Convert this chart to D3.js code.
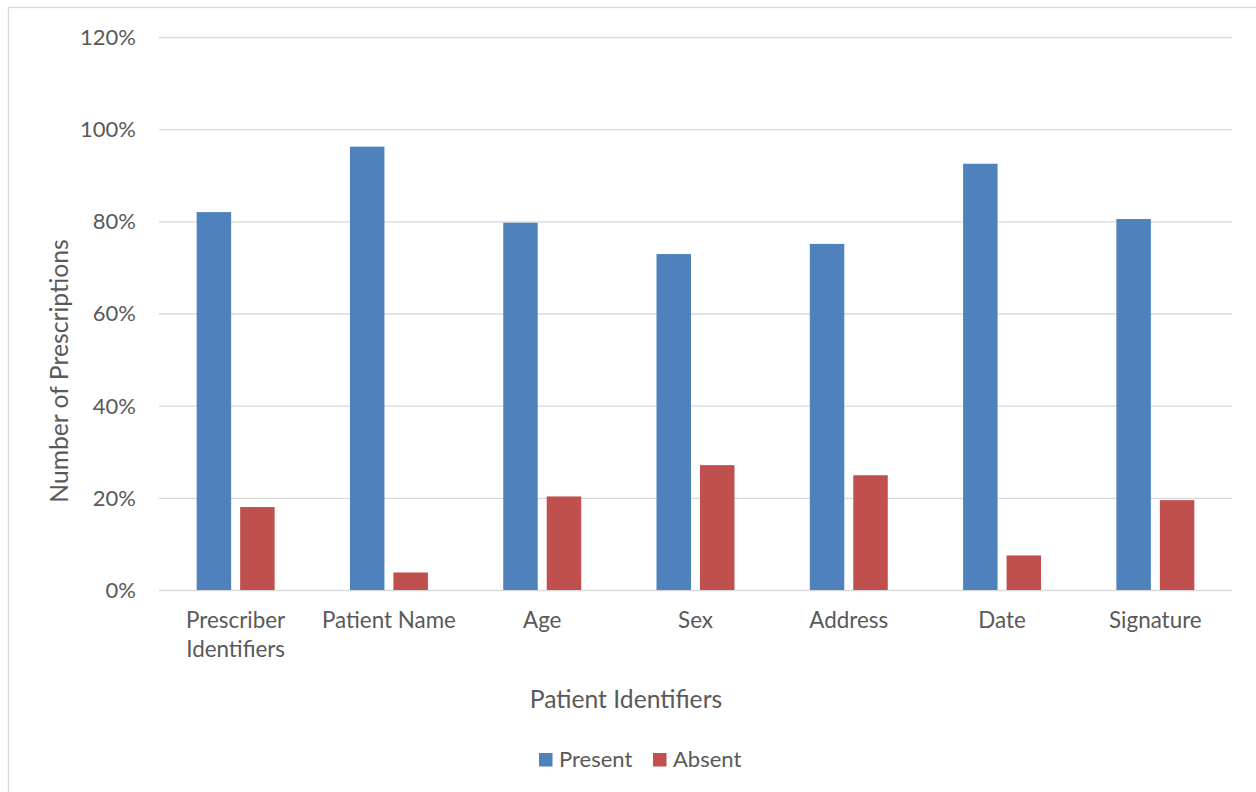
<!DOCTYPE html>
<html>
<head>
<meta charset="utf-8">
<script src="https://cdn.jsdelivr.net/npm/d3@7"></script>
<style>
  html, body { margin: 0; padding: 0; background: #fff; }
  svg { display: block; }
  text { font-family: Lato, "Open Sans", sans-serif; fill: #595959; }
</style>
</head>
<body>
<svg id="chart" width="1256" height="792"></svg>
<script>
const categories = ["Prescriber Identifiers", "Patient Name", "Age", "Sex", "Address", "Date", "Signature"];
const seriesNames = ["Present", "Absent"];
const presentValues = [0.820, 0.962, 0.797, 0.729, 0.751, 0.925, 0.805];
const absentValues  = [0.180, 0.038, 0.203, 0.271, 0.249, 0.075, 0.195];
const yTicks = [0, 0.2, 0.4, 0.6, 0.8, 1.0, 1.2];
const colors = ["#4f81bd", "#c0504d"];
const xTitle = "Patient Identifiers";
const yTitle = "Number of Prescriptions";

const svg = d3.select("#chart");
const FS = 22;
const TFS = 24.7;

// chart border
svg.append("rect")
  .attr("x", 8.5).attr("y", 7.5)
  .attr("width", 1300).attr("height", 900)
  .attr("fill", "none").attr("stroke", "#d9d9d9").attr("stroke-width", 1.3);

const plot = { left: 159, right: 1232, top: 37, bottom: 590 };

const x0 = d3.scaleBand().domain(categories).range([plot.left, plot.right]).padding(0);
const x1 = d3.scaleBand().domain(seriesNames).range([0, x0.bandwidth()])
  .paddingInner(0.207).paddingOuter(0.866);
const y = d3.scaleLinear().domain([0, 1.2]).range([plot.bottom, plot.top]);

// gridlines + y labels via axis
const yAxis = d3.axisLeft(y).tickValues(yTicks)
  .tickSize(-(plot.right - plot.left))
  .tickPadding(23)
  .tickFormat(d => Math.round(d * 100) + "%");
const gy = svg.append("g").attr("transform", `translate(${plot.left},0)`).call(yAxis);
gy.select(".domain").remove();
gy.selectAll(".tick line").attr("stroke", "#d9d9d9").attr("stroke-width", 1.3);
gy.selectAll(".tick text").attr("font-size", FS).attr("fill", "#595959")
  .style("font-family", "Lato, 'Open Sans', sans-serif").attr("dy", "0.34em");

// bars
const data = categories.map((c, i) => ({ cat: c, vals: [presentValues[i], absentValues[i]] }));
const groups = svg.append("g").selectAll("g").data(data).join("g")
  .attr("transform", d => `translate(${x0(d.cat)},0)`);
groups.selectAll("rect")
  .data(d => d.vals.map((v, j) => ({ key: seriesNames[j], v, j })))
  .join("rect")
  .attr("x", d => x1(d.key))
  .attr("width", x1.bandwidth())
  .attr("y", d => y(d.v))
  .attr("height", d => y(0) - y(d.v))
  .attr("fill", d => colors[d.j]);

// x axis labels
const xAxis = d3.axisBottom(x0).tickSize(0).tickPadding(0);
const gx = svg.append("g").attr("transform", `translate(0,${plot.bottom})`).call(xAxis);
gx.select(".domain").remove();
gx.selectAll(".tick text").each(function(d) {
  const t = d3.select(this);
  t.text(null).attr("font-size", 22.4).attr("fill", "#595959")
   .style("font-family", "Lato, 'Open Sans', sans-serif").attr("y", 0).attr("dy", null);
  const lines = d === "Prescriber Identifiers" ? ["Prescriber", "Identifiers"] : [d];
  lines.forEach((ln, k) => {
    t.append("tspan").attr("x", 0).attr("y", 38 + k * 29.3).text(ln);
  });
});

// axis titles
svg.append("text").attr("x", 626).attr("y", 708).attr("text-anchor", "middle")
  .attr("font-size", TFS).text(xTitle);
svg.append("text").attr("transform", "translate(68,371) rotate(-90)")
  .attr("text-anchor", "middle").attr("font-size", TFS).text(yTitle);

// legend
const legend = svg.append("g");
const legendItems = [{ name: seriesNames[0], x: 539 }, { name: seriesNames[1], x: 653 }];
legendItems.forEach((it, i) => {
  legend.append("rect").attr("x", it.x).attr("y", 753).attr("width", 13.5).attr("height", 13.5)
    .attr("fill", colors[i]);
  legend.append("text").attr("x", it.x + 20).attr("y", 767).attr("font-size", FS).text(it.name);
});
</script>
</body>
</html>
